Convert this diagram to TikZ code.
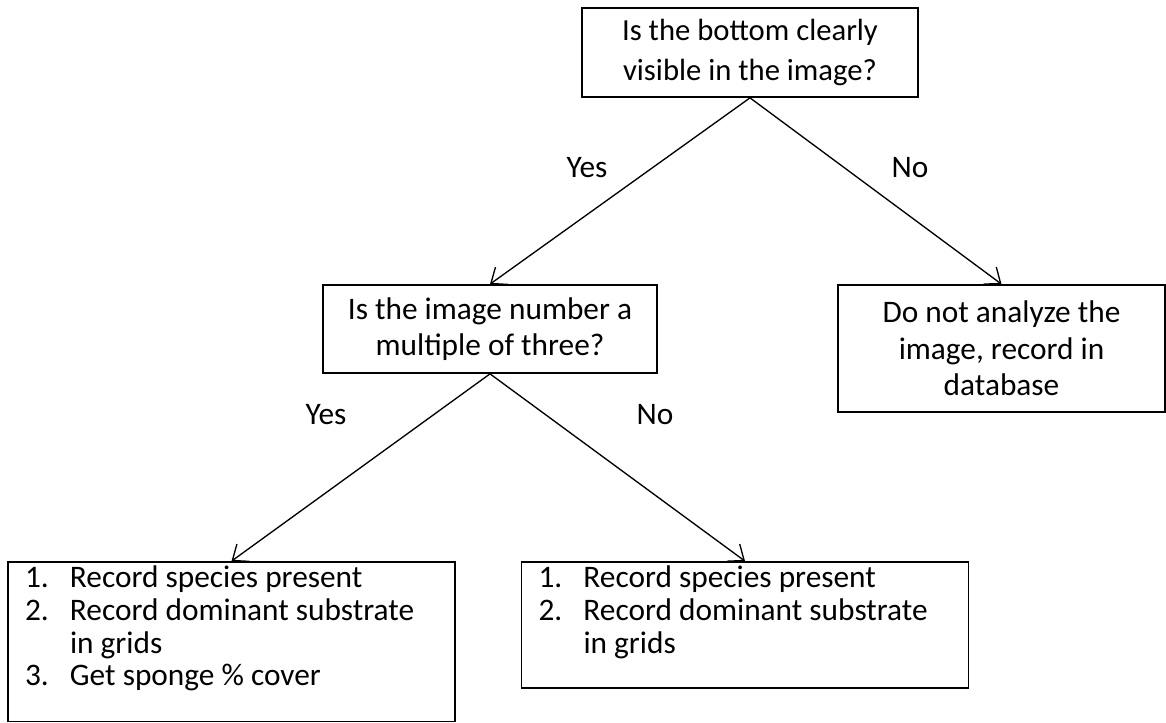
\documentclass[tikz,border=0pt]{standalone}
\usepackage{fontspec}
\setmainfont{Carlito}
\usetikzlibrary{arrows.meta,positioning}
\tikzstyle{line} = [draw, line width=1pt, -{Straight Barb[length=10pt,width=16pt]}]
\tikzstyle{box} = [draw, line width=1.3pt, rectangle, align=center, inner sep=0pt]
\tikzstyle{listbox} = [draw, line width=1.3pt, rectangle, inner xsep=12.75pt, inner ysep=3pt, font=\fontsize{23.5}{24.5}\selectfont]
\tikzstyle{answer} = [inner sep=0pt, font=\fontsize{23.5}{26}\selectfont]
\newcommand{\numline}[2]{\makebox[33.75pt][l]{#1}#2}

\begin{document}
\begin{tikzpicture}[x=0.75pt,y=-0.75pt]
      \useasboundingbox (0,0) rectangle (1166,723);
      \node [box, minimum width=252pt, minimum height=66.75pt, font=\fontsize{23}{29.5}\selectfont] (bottom) at (750,52.5) {Is the bottom clearly\\visible in the image?};
      \node [box, minimum width=250.5pt, minimum height=66pt, font=\fontsize{23.5}{27.5}\selectfont] (multiple) at (490,329) {Is the image number a\\multiple of three?};
      \node [box, minimum width=245.25pt, minimum height=95.25pt, font=\fontsize{23.5}{27.5}\selectfont] (skip) at (1001.5,348.5) {Do not analyze the\\image, record in\\database};
      \node [listbox] (every) at (231.5,641.75) {\parbox[c][113.6pt][t]{309.75pt}{\numline{1.}{Record species present}\\\numline{2.}{Record dominant substrate}\\\numline{}{in grids}\\\numline{3.}{Get sponge \% cover}}};
      \node [listbox] (other) at (745,625) {\parbox[c][88.5pt][t]{309.75pt}{\numline{1.}{Record species present}\\\numline{2.}{Record dominant substrate}\\\numline{}{in grids}}};
      % answers
      \node [answer] (yes1) at (587,168) {Yes};
      \node [answer] (no1) at (910,168) {No};
      \node [answer] (yes2) at (326,415) {Yes};
      \node [answer] (no2) at (655,415) {No};
      % connectors
      \path [line] (bottom.south) -- (multiple.north);
      \path [line] (bottom.south) -- (skip.north);
      \path [line] (multiple.south) -- (every.north);
      \path [line] (multiple.south) -- (other.north);
    \end{tikzpicture}
\end{document}
